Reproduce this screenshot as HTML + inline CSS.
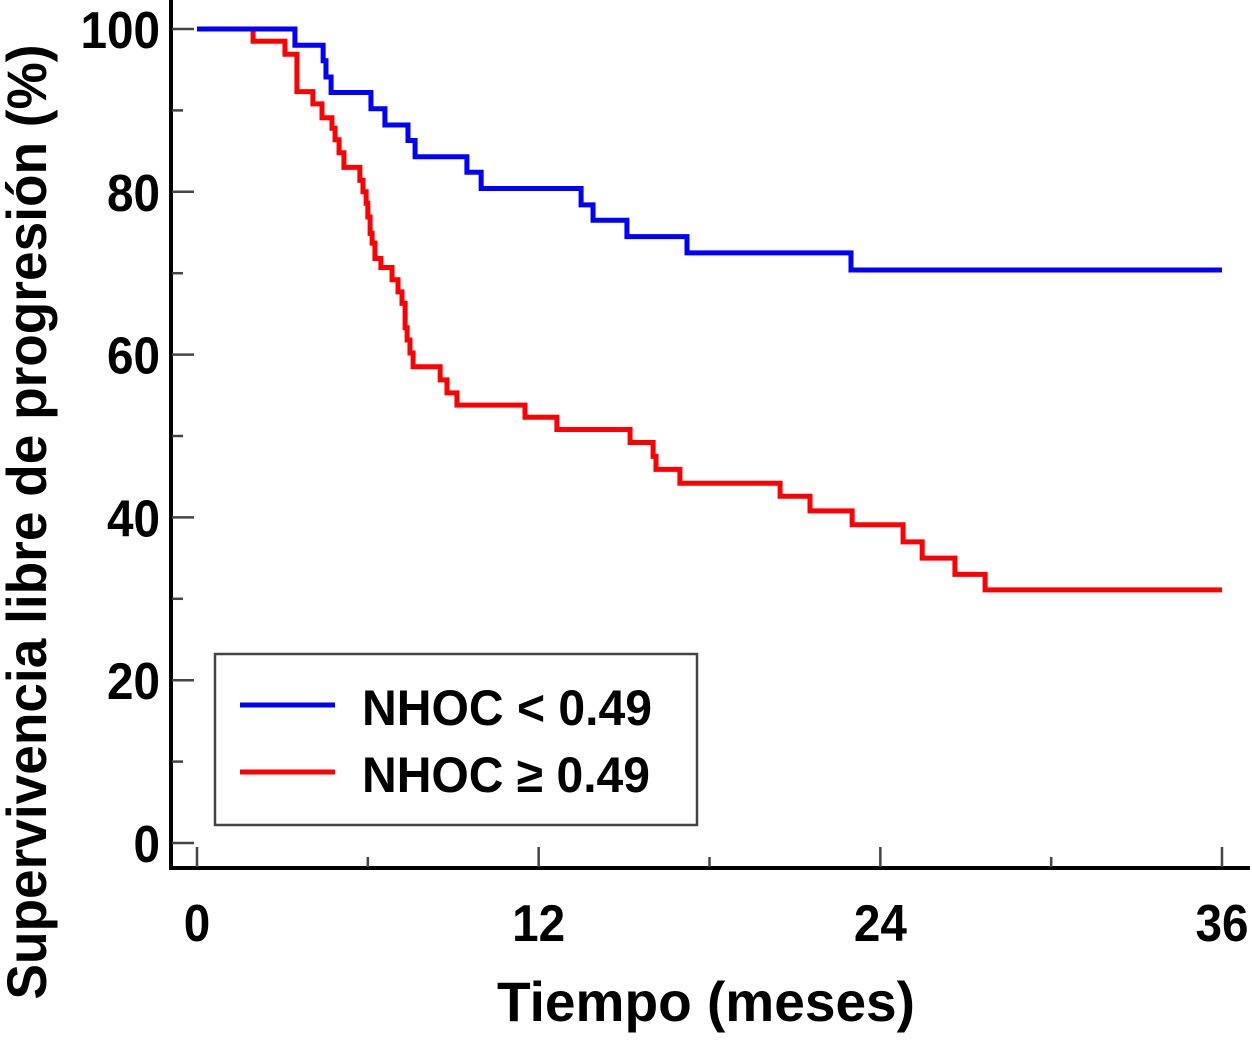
<!DOCTYPE html>
<html><head><meta charset="utf-8"><style>
body{margin:0;background:#fff}
svg text{font-family:"Liberation Sans",Arial,sans-serif;font-weight:bold;fill:#000}
</style></head><body>
<svg width="1252" height="1035" viewBox="0 0 1252 1035">
<g id="axes"></g>
<g id="series"></g>
<g>
<rect x="215" y="654" width="482" height="171" fill="#fff" stroke="#444" stroke-width="2.5"/>
<line x1="240" y1="705" x2="335" y2="705" stroke="#0000ff" stroke-width="5"/>
<text x="362" y="725" font-size="50" textLength="290" lengthAdjust="spacingAndGlyphs">NHOC &lt; 0.49</text>
<line x1="240" y1="772" x2="335" y2="772" stroke="#ff0000" stroke-width="5"/>
<text x="362" y="792" font-size="50" textLength="288" lengthAdjust="spacingAndGlyphs">NHOC ≥ 0.49</text>
</g>
<text x="706" y="1021" font-size="56" text-anchor="middle" textLength="418" lengthAdjust="spacingAndGlyphs">Tiempo (meses)</text>
<text transform="translate(46,522) rotate(-90)" font-size="56" text-anchor="middle" textLength="955" lengthAdjust="spacingAndGlyphs">Supervivencia libre de progresión (%)</text>
</svg>
<script>
const blueTimes=[0,3.44,4.43,4.53,4.71,6.11,6.60,7.41,7.66,9.48,9.98,13.49,13.91,15.10,17.21,22.97];
const blueVals=[100,98.0,96.1,94.1,92.2,90.2,88.2,86.3,84.3,82.4,80.4,78.4,76.5,74.5,72.5,70.4];
const redTimes=[0,1.97,3.09,3.51,4.07,4.39,4.74,4.85,4.99,5.16,5.72,5.83,5.94,6.0,6.08,6.15,6.25,6.46,6.85,7.06,7.2,7.31,7.38,7.48,7.59,8.54,8.78,9.13,11.52,12.64,15.21,16.02,16.12,16.96,20.48,21.53,23.01,24.8,25.47,26.62,27.68];
const redVals=[100,98.5,96.9,92.3,90.8,89.1,87.8,86.4,84.8,83.0,81.4,80.0,78.6,76.9,74.9,73.7,71.8,70.7,69.2,67.7,66.3,63.3,61.8,60.2,58.5,56.9,55.3,53.8,52.3,50.8,49.2,47.5,45.9,44.2,42.6,40.8,39.1,37.0,35.0,33.0,31.1];
const endTime=36;
const xTicks=[0,12,24,36];
const xMinor=[6,18,30];
const yTicks=[0,20,40,60,80,100];
const yMinor=[10,30,50,70,90];
const NS='http://www.w3.org/2000/svg';
const X=t=>197+t*(1222-197)/36;
const Y=v=>843-v*(843-29)/100;
function mk(tag,attrs,parent){const e=document.createElementNS(NS,tag);for(const k in attrs)e.setAttribute(k,attrs[k]);parent.appendChild(e);return e;}
const ax=document.getElementById('axes');
let l=mk('line',{x1:171,y1:0,x2:171,y2:870,stroke:'#000','stroke-width':4},ax);


l=mk('line',{x1:169,y1:868,x2:1250,y2:868,stroke:'#000','stroke-width':4},ax);


yTicks.forEach(v=>{
 const t=mk('line',{x1:172,y1:Y(v),x2:194,y2:Y(v),stroke:'#444','stroke-width':2.5},ax);
 
 
 const s=String(v);
 const tx=mk('text',{x:160,y:Y(v)+19,'font-size':52,'text-anchor':'end',textLength:s.length*26.5,lengthAdjust:'spacingAndGlyphs'},ax);tx.textContent=s;
 
 
});
yMinor.forEach(v=>{
 const t=mk('line',{x1:172,y1:Y(v),x2:183,y2:Y(v),stroke:'#444','stroke-width':2.5},ax);
 
 
});
xTicks.forEach(v=>{
 const t=mk('line',{x1:X(v),y1:847,x2:X(v),y2:867,stroke:'#444','stroke-width':2.5},ax);
 
 
 const s=String(v);
 const tx=mk('text',{x:X(v),y:941,'font-size':52,'text-anchor':'middle',textLength:s.length*26.5,lengthAdjust:'spacingAndGlyphs'},ax);tx.textContent=s;
 
 
});
xMinor.forEach(v=>{
 const t=mk('line',{x1:X(v),y1:857,x2:X(v),y2:867,stroke:'#444','stroke-width':2.5},ax);
 
 
});
function stepPath(ts,vs){let d='M'+X(ts[0])+','+Y(vs[0]);for(let i=1;i<ts.length;i++){d+=' H'+X(ts[i])+' V'+Y(vs[i]);}d+=' H'+X(endTime);return d;}
const sg=document.getElementById('series');
let p=mk('path',{d:stepPath(redTimes,redVals),fill:'none',stroke:'#ff0000','stroke-width':5},sg);


p=mk('path',{d:stepPath(blueTimes,blueVals),fill:'none',stroke:'#0000ff','stroke-width':5},sg);


</script>
</body></html>
